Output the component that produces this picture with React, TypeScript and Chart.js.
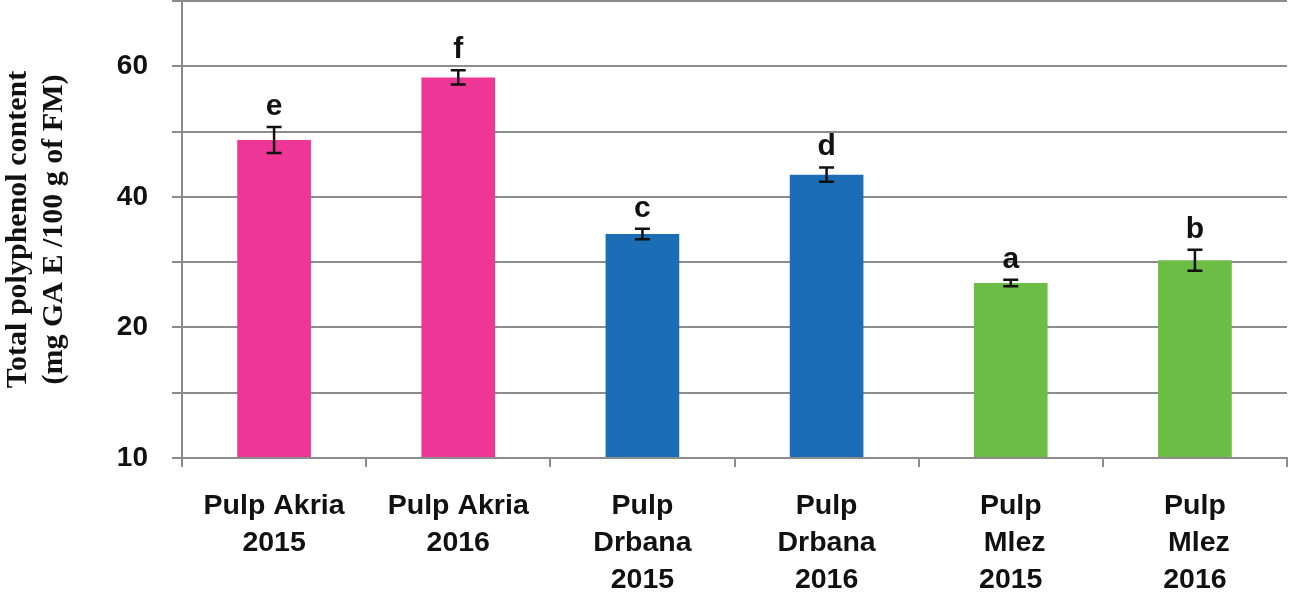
import React, { useEffect, useRef } from "react";
import { Chart, registerables } from "chart.js";

Chart.register(...registerables);

const categories: string[][] = [
  ["Pulp Akria", "2015"],
  ["Pulp Akria", "2016"],
  ["Pulp", "Drbana", "2015"],
  ["Pulp", "Drbana", "2016"],
  ["Pulp", " Mlez", "2015"],
  ["Pulp", " Mlez", "2016"],
];
const means = [48.7, 58.3, 34.3, 43.4, 26.8, 30.3];
const errors = [2.0, 1.1, 0.8, 1.1, 0.5, 1.6];
const letters = ["e", "f", "c", "d", "a", "b"];
const barColors = ["#ED3696", "#ED3696", "#1B6DB5", "#1B6DB5", "#6BBD45", "#6BBD45"];
const yTickValues = [0, 20, 40, 60];
const yTickLabels = ["10", "20", "40", "60"];
const yTitle = ["Total polyphenol content", "(mg GA E /100 g of FM)"];

const SANS = '"Liberation Sans", Arial, Helvetica, sans-serif';
const SERIF = '"Liberation Serif", "Times New Roman", serif';
const GRID = "#8c8c8c";
const INK = "#111111";

const errorPlugin = {
  id: "errorBarsLetters",
  afterDatasetsDraw(chart: any) {
    const { ctx } = chart;
    const y = chart.scales.y;
    const meta = chart.getDatasetMeta(0);
    ctx.save();
    ctx.strokeStyle = INK;
    ctx.lineWidth = 2.5;
    ctx.fillStyle = INK;
    ctx.font = `bold 30px ${SANS}`;
    ctx.textAlign = "center";
    ctx.textBaseline = "alphabetic";
    meta.data.forEach((bar: any, i: number) => {
      const cx = bar.x;
      const top = y.getPixelForValue(means[i] + errors[i]);
      const bot = y.getPixelForValue(means[i] - errors[i]);
      ctx.beginPath();
      ctx.moveTo(cx, top);
      ctx.lineTo(cx, bot);
      ctx.moveTo(cx - 7.5, top);
      ctx.lineTo(cx + 7.5, top);
      ctx.moveTo(cx - 7.5, bot);
      ctx.lineTo(cx + 7.5, bot);
      ctx.stroke();
      ctx.fillText(letters[i], cx, top - 12);
    });
    ctx.restore();
  },
};

export default function App() {
  const ref = useRef<HTMLCanvasElement | null>(null);
  useEffect(() => {
    if (!ref.current) return;
    const chart = new Chart(ref.current, {
      type: "bar",
      data: {
        labels: categories as any,
        datasets: [
          {
            data: means,
            backgroundColor: barColors,
            borderWidth: 0,
            barPercentage: 0.4,
            categoryPercentage: 1,
          },
        ],
      },
      options: {
        animation: false,
        responsive: false,
        devicePixelRatio: 1,
        layout: { padding: { top: 1, right: 2, left: 0, bottom: 2 } },
        plugins: {
          legend: { display: false },
          tooltip: { enabled: false },
        },
        scales: {
          x: {
            grid: {
              drawOnChartArea: false,
              color: GRID,
              lineWidth: 2,
              tickLength: 9,
              offset: true,
            },
            border: { color: GRID, width: 2 },
            ticks: {
              color: INK,
              font: { family: SANS, size: 28.5, weight: "bold", lineHeight: 1.3 },
              padding: 21,
              maxRotation: 0,
              autoSkip: false,
            },
            afterFit: (s: any) => {
              s.height = 139;
              s.paddingLeft = 0;
              s.paddingRight = 0;
            },
          },
          y: {
            min: 0,
            max: 70,
            grid: { color: GRID, lineWidth: 2, tickLength: 10 },
            border: { color: GRID, width: 2 },
            ticks: {
              stepSize: 10,
              color: INK,
              font: { family: SANS, size: 28, weight: "bold" },
              padding: 24,
              callback: (v: any) => {
                const idx = yTickValues.indexOf(Number(v));
                return idx >= 0 ? yTickLabels[idx] : "";
              },
            },
            title: {
              display: true,
              text: yTitle,
              color: INK,
              font: { family: SERIF, size: 30, weight: "bold", lineHeight: 1.2 },
              padding: { top: 0, bottom: 45 },
            },
            afterFit: (s: any) => {
              s.width = 182;
              s.paddingTop = 0;
              s.paddingBottom = 0;
            },
          },
        },
      },
      plugins: [errorPlugin],
    });
    return () => chart.destroy();
  }, []);
  return (
    <div style={{ position: "absolute", left: 0, top: 0, width: 1289, height: 599, background: "#fff" }}>
      <canvas ref={ref} width={1289} height={599} style={{ width: 1289, height: 599, display: "block" }} />
    </div>
  );
}
